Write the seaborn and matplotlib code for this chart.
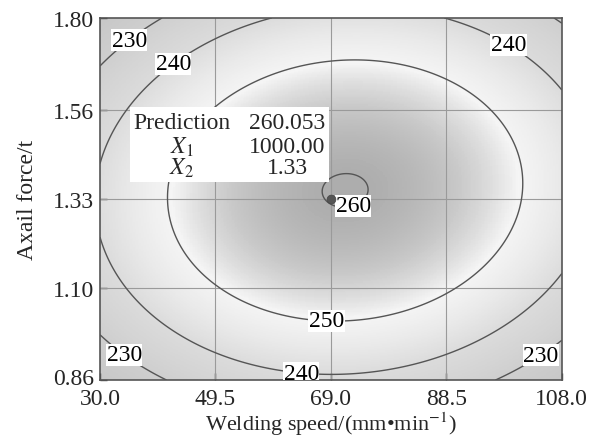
import numpy as np
import pandas as pd
import matplotlib
matplotlib.use("Agg")
import matplotlib.pyplot as plt
import matplotlib.transforms as mtransforms
import seaborn as sns
from matplotlib.colors import LinearSegmentedColormap, Normalize

# ---- data ----
x_ticks = [30.0, 49.5, 69.0, 88.5, 108.0]
x_tick_labels = ["30.0", "49.5", "69.0", "88.5", "108.0"]
y_ticks = [0.86, 1.10, 1.33, 1.56, 1.80]
y_tick_labels = ["0.86", "1.10", "1.33", "1.56", "1.80"]
contour_levels = [230, 240, 250, 260]

# quadratic response surface (estimated from the contour geometry)
surface_peak = 260.17
surface_center = [71.4, 1.352]
surface_curvature = [0.01133, 88.8]
surface_interaction = 0.11

pred_x = [69.0]
pred_y = [1.33]
pred_names = ["Prediction", "$X_1$", "$X_2$"]
pred_values = ["260.053", "1000.00", "1.33"]

label_x = [33.5, 42.0, 99.6, 73.0, 68.3, 64.1, 35.0, 103.4]
label_y = [1.771, 1.688, 1.745, 1.30, 1.029, 0.899, 0.945, 0.95]

# shading colours keyed by response value
shade_values = [221, 230, 240, 246, 250.5, 253, 256, 260.17]
shade_grays = [0.78, 0.81, 0.86, 0.92, 0.96, 0.88, 0.79, 0.68]

# ---- figure ----
sns.set_theme(style="ticks")
plt.rcParams["font.family"] = ["Liberation Serif", "DejaVu Serif"]
plt.rcParams["mathtext.fontset"] = "stix"
FS = 17

fig = plt.figure(figsize=(5.92, 4.39), dpi=100)
ax = fig.add_axes([0.169, 0.132, 0.780, 0.825])

gx = np.linspace(x_ticks[0], x_ticks[-1], 300)
gy = np.linspace(y_ticks[0], y_ticks[-1], 300)
X, Y = np.meshgrid(gx, gy)
dx = X - surface_center[0]
dy = Y - surface_center[1]
Z = (surface_peak - surface_curvature[0] * dx ** 2
     - surface_curvature[1] * dy ** 2 + surface_interaction * dx * dy)

lo, hi = shade_values[0], shade_values[-1]
nodes = [(v - lo) / (hi - lo) for v in shade_values]
cmap = LinearSegmentedColormap.from_list(
    "shade", list(zip(nodes, [(g, g, g) for g in shade_grays])))
ax.pcolormesh(X, Y, Z, cmap=cmap, norm=Normalize(lo, hi), shading="auto",
              rasterized=True, zorder=0)

for t in x_ticks[1:-1]:
    ax.axvline(t, color="#9a9a9a", lw=0.8, zorder=1)
for t in y_ticks[1:-1]:
    ax.axhline(t, color="#9a9a9a", lw=0.8, zorder=1)

cs = ax.contour(X, Y, Z, levels=contour_levels, colors="#555555",
                linewidths=1.0, zorder=2)
texts = ax.clabel(cs, manual=list(zip(label_x, label_y)), inline=False,
                  fmt="%d", fontsize=FS, colors="black")
for t in texts:
    t.set_rotation(0)
    t.set_bbox(dict(facecolor="white", edgecolor="none", pad=0.3))
    t.set_zorder(4)

pts = pd.DataFrame({"x": pred_x, "y": pred_y})
sns.scatterplot(data=pts, x="x", y="y", ax=ax, color="#555555", s=40,
                edgecolor="#444444", linewidth=0.5, zorder=5, legend=False)

# prediction box
ax.add_patch(plt.Rectangle((0.065, 0.547), 0.431, 0.207, transform=ax.transAxes,
                           facecolor="white", edgecolor="none", zorder=6))
row_y = [0.712, 0.645, 0.586]
for name, val, ry in zip(pred_names, pred_values, row_y):
    ax.text(0.177, ry, name, transform=ax.transAxes, ha="center", va="center",
            fontsize=FS, zorder=7)
    ax.text(0.405, ry, val, transform=ax.transAxes, ha="center", va="center",
            fontsize=FS, zorder=7)

ax.set_xlim(x_ticks[0], x_ticks[-1])
ax.set_ylim(y_ticks[0], y_ticks[-1])
ax.set_xticks(x_ticks)
ax.set_xticklabels(x_tick_labels)
ax.set_yticks(y_ticks)
ax.set_yticklabels(y_tick_labels)
ax.tick_params(direction="in", length=5, width=1, labelsize=FS, color="#444444",
               pad=4)
ax.tick_params(axis="x", pad=6)
for s in ax.spines.values():
    s.set_color("#555555")
    s.set_linewidth(1.2)

# lift the lowest y label a little, as in the reference
lowest = ax.get_yticklabels()[0]
lowest.set_transform(lowest.get_transform() +
                     mtransforms.ScaledTranslation(0, 3 / 72, fig.dpi_scale_trans))

ax.set_xlabel("Welding speed/(mm\u2022min$^{-1}$)", fontsize=16, labelpad=0)
ax.set_ylabel("Axail force/t", fontsize=FS, labelpad=11)

fig.savefig("out.png", dpi=100)
